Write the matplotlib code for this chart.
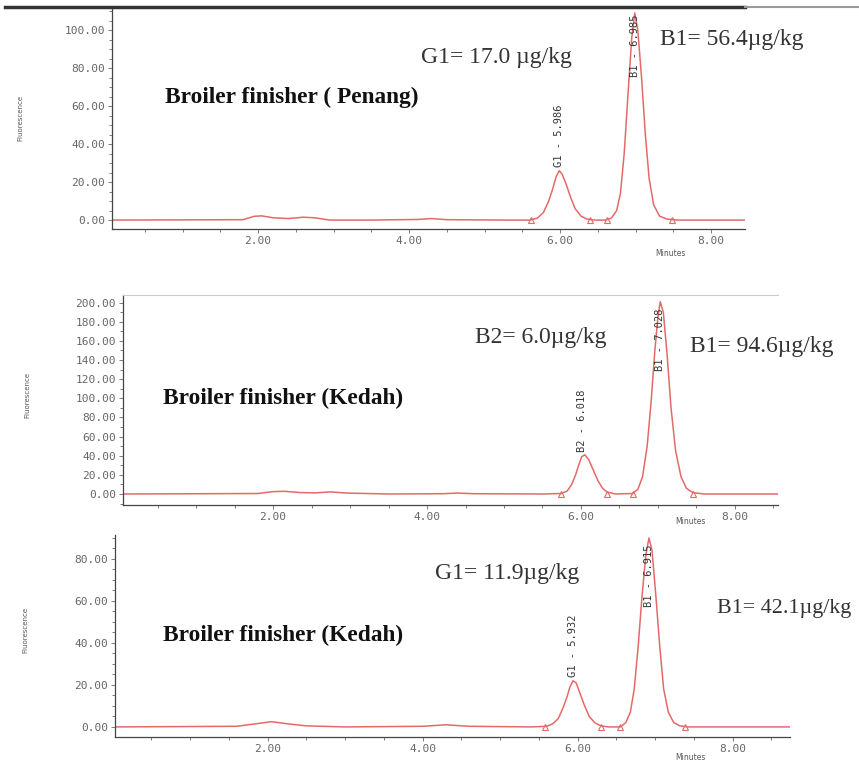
import numpy as np
import matplotlib
matplotlib.use('Agg')
import matplotlib.pyplot as plt
from matplotlib.lines import Line2D
from matplotlib.ticker import MultipleLocator, FormatStrFormatter

# ---- data (minutes, signal) ----
t1 = [0.07, 1.80, 1.95, 2.05, 2.20, 2.40, 2.60, 2.75, 2.95, 3.50, 4.10, 4.30, 4.50, 5.30,
      5.60, 5.70, 5.78, 5.85, 5.90, 5.95, 5.99, 6.03, 6.08, 6.14, 6.20, 6.28, 6.36, 6.45,
      6.60, 6.68, 6.75, 6.80, 6.85, 6.90, 6.95, 6.99, 7.03, 7.08, 7.13, 7.18, 7.24, 7.32,
      7.42, 7.55, 8.45]
y1 = [0.0, 0.2, 2.0, 2.2, 1.2, 0.8, 1.5, 1.2, 0.0, 0.0, 0.3, 0.8, 0.2, 0.0,
      0.0, 1.0, 4.0, 10.0, 16.0, 23.0, 26.0, 24.0, 19.0, 12.0, 6.0, 2.0, 0.5, 0.0,
      0.0, 1.0, 5.0, 14.0, 35.0, 66.0, 96.0, 109.0, 100.0, 75.0, 45.0, 22.0, 8.0, 2.0,
      0.5, 0.0, 0.0]

t2 = [0.05, 1.80, 2.00, 2.15, 2.35, 2.55, 2.75, 2.95, 3.50, 4.20, 4.40, 4.60, 5.50,
      5.74, 5.82, 5.88, 5.93, 5.97, 6.01, 6.05, 6.10, 6.16, 6.22, 6.28, 6.34, 6.45,
      6.67, 6.74, 6.80, 6.86, 6.91, 6.96, 7.00, 7.03, 7.07, 7.12, 7.17, 7.23, 7.30,
      7.37, 7.45, 7.60, 8.56]
y2 = [0.0, 0.5, 2.5, 2.8, 1.5, 1.2, 2.2, 1.0, 0.0, 0.3, 1.0, 0.3, 0.0,
      0.5, 3.0, 10.0, 20.0, 30.0, 39.0, 41.0, 36.0, 25.0, 14.0, 6.0, 2.0, 0.0,
      0.5, 5.0, 18.0, 50.0, 95.0, 150.0, 185.0, 201.0, 190.0, 145.0, 90.0, 45.0, 18.0,
      6.0, 1.5, 0.0, 0.0]

t3 = [0.03, 1.60, 1.85, 2.05, 2.25, 2.50, 3.00, 4.00, 4.30, 4.60, 5.40,
      5.60, 5.68, 5.75, 5.81, 5.86, 5.90, 5.94, 5.98, 6.03, 6.09, 6.15, 6.22, 6.30, 6.40,
      6.55, 6.62, 6.68, 6.73, 6.78, 6.83, 6.88, 6.92, 6.96, 7.01, 7.06, 7.11, 7.17,
      7.24, 7.32, 7.42, 7.55, 8.74]
y3 = [0.0, 0.3, 1.5, 2.5, 1.5, 0.5, 0.0, 0.3, 1.0, 0.3, 0.0,
      0.3, 1.5, 4.0, 9.0, 14.0, 19.0, 22.0, 21.0, 16.0, 10.0, 5.0, 2.0, 0.5, 0.0,
      0.0, 2.0, 7.0, 18.0, 38.0, 62.0, 82.0, 90.0, 84.0, 62.0, 38.0, 18.0, 7.0,
      2.0, 0.5, 0.0, 0.0, 0.0]

# integration start/end marks (minutes)
marks1 = [5.62, 6.40, 6.62, 7.48]
marks2 = [5.74, 6.34, 6.67, 7.45]
marks3 = [5.58, 6.30, 6.55, 7.38]

# peak labels: (time, label anchor value, text, placed above (True) or hanging below (False))
peaks1 = [(5.99, 28.0, 'G1 - 5.986', True), (6.99, 108.0, 'B1 - 6.985', False)]
peaks2 = [(6.01, 44.0, 'B2 - 6.018', True), (7.03, 194.0, 'B1 - 7.028', False)]
peaks3 = [(5.94, 24.0, 'G1 - 5.932', True), (6.92, 87.0, 'B1 - 6.915', False)]

titles = ['Broiler finisher ( Penang)', 'Broiler finisher (Kedah)', 'Broiler finisher (Kedah)']

W, H = 859, 762
red = '#e46a6a'
mono = 'DejaVu Sans Mono'


def px(x, y):
    return x / W, 1 - y / H


fig = plt.figure(figsize=(W / 100, H / 100), dpi=100)


def panel(box, xlim, ylim, t, y, marks, peaks, ymaj, ymin, top_spine):
    left, top, right, bottom = box
    l, b = px(left, bottom)
    ax = fig.add_axes([l, b, (right - left) / W, (bottom - top) / H])
    ax.plot(t, y, color=red, lw=1.1)
    ax.plot(marks, [0] * len(marks), ls='none', marker='^', ms=5, mfc='none',
            mec=red, mew=0.8)
    for (pt, pv, lab, above) in peaks:
        ax.text(pt, pv, lab, rotation=90, fontsize=7.5, ha='center',
                va='bottom' if above else 'top', color='#333333', family=mono)
    ax.set_xlim(xlim)
    ax.set_ylim(ylim)
    ax.xaxis.set_major_locator(MultipleLocator(2))
    ax.xaxis.set_minor_locator(MultipleLocator(0.5))
    ax.yaxis.set_major_locator(MultipleLocator(ymaj))
    ax.yaxis.set_minor_locator(MultipleLocator(ymin))
    ax.xaxis.set_major_formatter(FormatStrFormatter('%.2f'))
    ax.yaxis.set_major_formatter(FormatStrFormatter('%.2f'))
    ax.tick_params(which='both', direction='out', labelsize=8, colors='#666666',
                   width=0.6, pad=2)
    ax.tick_params(which='major', length=3)
    ax.tick_params(which='minor', length=2)
    for lab in ax.get_xticklabels() + ax.get_yticklabels():
        lab.set_family(mono)
    ax.spines['right'].set_visible(False)
    ax.spines['top'].set_visible(top_spine)
    ax.spines['top'].set_color('#cccccc')
    for s in ['left', 'bottom']:
        ax.spines[s].set_color('#444444')
        ax.spines[s].set_linewidth(0.9)
    return ax


ax1 = panel((112, 8, 745, 229), (0.066, 8.45), (-4.7, 111.6), t1, y1, marks1, peaks1,
            20, 5, False)
ax2 = panel((123, 295, 778, 505), (0.05, 8.56), (-11.5, 208), t2, y2, marks2, peaks2,
            20, 10, True)
ax3 = panel((115, 535, 790, 737), (0.03, 8.74), (-4.8, 91.4), t3, y3, marks3, peaks3,
            20, 5, False)

# thick rule along the top of the first chromatogram
fig.add_artist(Line2D([5 / W, 745 / W], [1 - 7 / H] * 2, color='#333333', lw=2.5))
fig.add_artist(Line2D([745 / W, 1.0], [1 - 7 / H] * 2, color='#999999', lw=1.5))

# axis labels
for (x, y) in [(20, 118), (27, 395), (25, 630)]:
    fig.text(*px(x, y), 'Fluorescence', rotation=90, fontsize=5, ha='center',
             va='center', color='#555555')
for (x, y) in [(670, 254), (690, 522), (690, 758)]:
    fig.text(*px(x, y), 'Minutes', fontsize=5.5, ha='center', va='center', color='#555555')

# sample titles
serif = ['Liberation Serif', 'DejaVu Serif']
for (x, y), s in zip([(165, 97), (163, 398), (163, 635)], titles):
    fig.text(*px(x, y), s, fontsize=16.8, fontweight='bold', family=serif,
             ha='left', va='center', color='#111111')

# concentrations
conc = [((421, 57), 'G1= 17.0 µg/kg', 17), ((660, 40), 'B1= 56.4µg/kg', 17),
        ((475, 338), 'B2= 6.0µg/kg', 17), ((690, 347), 'B1= 94.6µg/kg', 17),
        ((435, 573), 'G1= 11.9µg/kg', 17), ((717, 608), 'B1= 42.1µg/kg', 15.8)]
for (x, y), s, fs in conc:
    fig.text(*px(x, y), s, fontsize=fs, family=serif, ha='left', va='center',
             color='#333333')

fig.savefig('out.png', dpi=100)
